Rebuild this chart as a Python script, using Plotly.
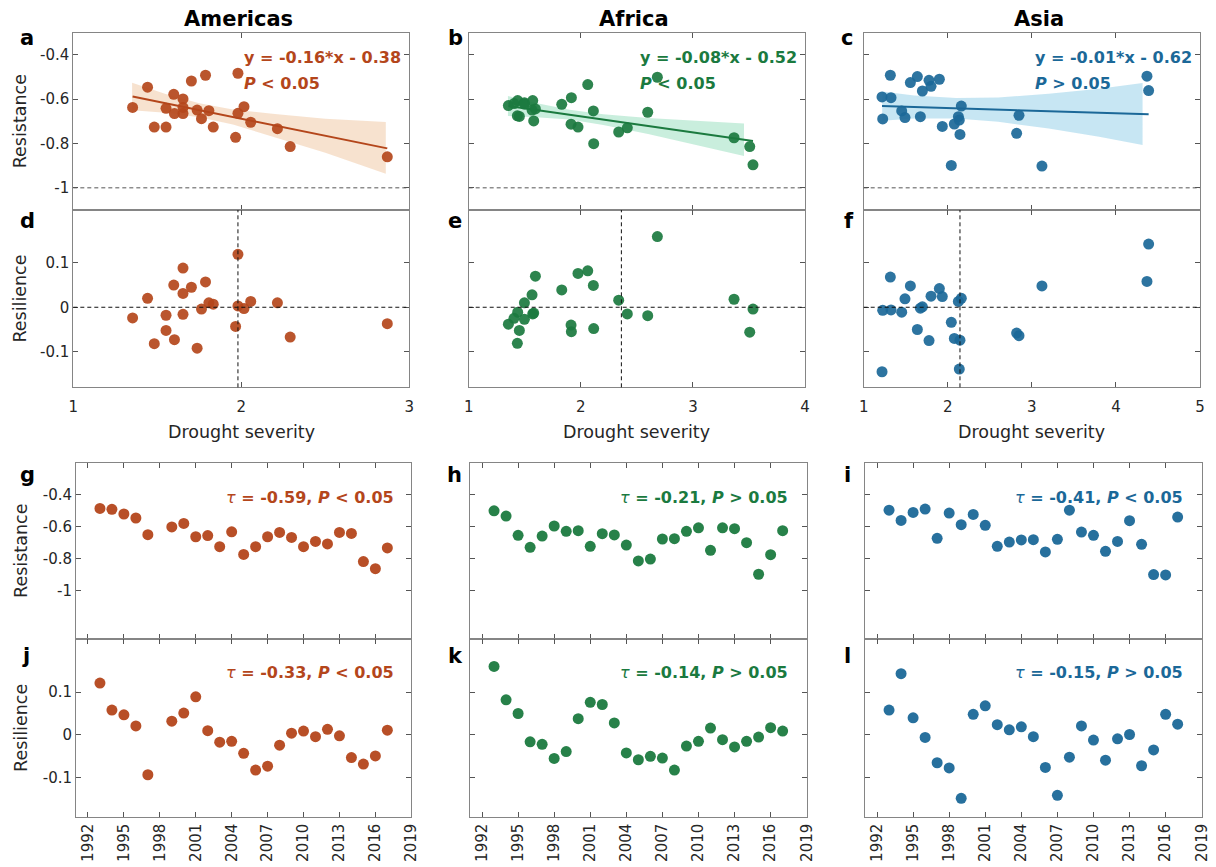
import plotly.graph_objects as go

W, H = 1216, 867
FONT = "DejaVu Sans"

regions = ["Americas", "Africa", "Asia"]
colors = ["#B4461B", "#1B7A3F", "#1B6898"]
band_colors = ["rgba(235,185,140,0.42)", "rgba(120,212,170,0.40)", "rgba(115,192,225,0.40)"]

# ---------------- scatter data (drought severity vs resistance / resilience) ----------------
am_sev = [1.353, 1.442, 1.482, 1.552, 1.552, 1.598, 1.602, 1.653, 1.653, 1.653, 1.703, 1.737,
          1.763, 1.787, 1.807, 1.833, 1.966, 1.980, 1.980, 2.016, 2.056, 2.215, 2.291, 2.869]
am_res = [-0.637, -0.546, -0.726, -0.726, -0.641, -0.578, -0.665, -0.599, -0.637, -0.665, -0.518, -0.649,
          -0.688, -0.492, -0.652, -0.726, -0.772, -0.483, -0.664, -0.634, -0.704, -0.733, -0.814, -0.860]
am_resil = [-0.024, 0.020, -0.082, -0.018, -0.052, 0.050, -0.073, 0.088, 0.031, -0.016, 0.045, -0.092,
            -0.004, 0.057, 0.010, 0.007, -0.043, 0.119, 0.003, -0.003, 0.013, 0.010, -0.067, -0.037]

af_sev = [1.354, 1.404, 1.434, 1.437, 1.452, 1.497, 1.497, 1.565, 1.571, 1.580, 1.595, 1.830, 1.913,
          1.916, 1.975, 2.062, 2.112, 2.115, 2.338, 2.415, 2.597, 2.683, 3.367, 3.507, 3.536]
af_res = [-0.629, -0.620, -0.675, -0.606, -0.678, -0.616, -0.622, -0.649, -0.606, -0.698, -0.644, -0.623, -0.713,
          -0.593, -0.726, -0.534, -0.653, -0.801, -0.748, -0.729, -0.659, -0.501, -0.774, -0.814, -0.896]
af_resil = [-0.038, -0.025, -0.081, -0.011, -0.052, -0.027, 0.010, 0.028, -0.015, -0.013, 0.070, 0.039, -0.040,
            -0.055, 0.076, 0.082, 0.049, -0.048, 0.016, -0.015, -0.019, 0.159, 0.018, -0.056, -0.004]

as_sev = [1.218, 1.226, 1.317, 1.325, 1.452, 1.491, 1.555, 1.638, 1.674, 1.698, 1.777, 1.801, 1.900,
          1.935, 2.042, 2.078, 2.126, 2.137, 2.145, 2.161, 2.819, 2.847, 3.120, 4.369, 4.389]
as_res = [-0.590, -0.689, -0.492, -0.593, -0.653, -0.683, -0.525, -0.498, -0.679, -0.563, -0.515, -0.542, -0.510,
          -0.723, -0.899, -0.712, -0.679, -0.694, -0.759, -0.631, -0.754, -0.673, -0.902, -0.496, -0.561]
as_resil = [-0.145, -0.007, 0.068, -0.006, -0.011, 0.019, 0.048, -0.050, -0.002, 0.001, -0.075, 0.025, 0.042,
            0.024, -0.034, -0.070, 0.013, -0.139, -0.074, 0.020, -0.058, -0.064, 0.048, 0.058, 0.142]

# regression lines and confidence bands
am_fit_x = [1.353, 2.869]
am_fit_y = [-0.588, -0.822]
am_band_x = [1.35, 1.55, 1.75, 1.95, 2.2, 2.5, 2.86]
am_band_hi = [-0.526, -0.577, -0.618, -0.646, -0.667, -0.688, -0.703]
am_band_lo = [-0.650, -0.661, -0.682, -0.714, -0.771, -0.842, -0.936]

af_fit_x = [1.354, 3.536]
af_fit_y = [-0.631, -0.789]
af_band_x = [1.35, 1.6, 1.9, 2.2, 2.6, 3.0, 3.456]
af_band_hi = [-0.586, -0.617, -0.648, -0.668, -0.685, -0.698, -0.710]
af_band_lo = [-0.676, -0.681, -0.692, -0.716, -0.757, -0.802, -0.856]

as_fit_x = [1.218, 4.389]
as_fit_y = [-0.631, -0.668]
as_band_x = [1.22, 1.6, 2.1, 2.6, 3.2, 3.8, 4.317]
as_band_hi = [-0.565, -0.583, -0.595, -0.592, -0.576, -0.553, -0.527]
as_band_lo = [-0.697, -0.687, -0.687, -0.702, -0.732, -0.769, -0.807]

equations = ["y = -0.16*x - 0.38", "y = -0.08*x - 0.52", "y = -0.01*x - 0.62"]
p_fit = ["&lt; 0.05", "&lt; 0.05", "&gt; 0.05"]
mean_severity = [1.98, 2.362, 2.145]
ref_resistance = -1.0
ref_resilience = 0.0

# ---------------- time series data ----------------
am_years = [1993, 1994, 1995, 1996, 1997, 1999, 2000, 2001, 2002, 2003, 2004, 2005,
            2006, 2007, 2008, 2009, 2010, 2011, 2012, 2013, 2014, 2015, 2016, 2017]
am_ts_res = [-0.485, -0.491, -0.520, -0.545, -0.649, -0.601, -0.579, -0.662, -0.655, -0.724, -0.631, -0.772,
             -0.724, -0.662, -0.635, -0.666, -0.724, -0.691, -0.707, -0.635, -0.641, -0.817, -0.861, -0.732]
am_ts_resil = [0.121, 0.058, 0.047, 0.021, -0.093, 0.032, 0.051, 0.089, 0.010, -0.017, -0.015, -0.043,
               -0.082, -0.073, -0.024, 0.004, 0.009, -0.004, 0.013, -0.002, -0.053, -0.068, -0.049, 0.011]

years = [1993, 1994, 1995, 1996, 1997, 1998, 1999, 2000, 2001, 2002, 2003, 2004, 2005,
         2006, 2007, 2008, 2009, 2010, 2011, 2012, 2013, 2014, 2015, 2016, 2017]
af_ts_res = [-0.500, -0.533, -0.653, -0.728, -0.658, -0.595, -0.628, -0.624, -0.722, -0.643, -0.651, -0.714, -0.813,
             -0.801, -0.676, -0.674, -0.628, -0.606, -0.747, -0.606, -0.612, -0.699, -0.896, -0.774, -0.624]
af_ts_resil = [0.160, 0.082, 0.050, -0.016, -0.022, -0.055, -0.039, 0.038, 0.076, 0.071, 0.028, -0.042, -0.058,
               -0.050, -0.054, -0.082, -0.026, -0.015, 0.016, -0.011, -0.028, -0.015, -0.005, 0.017, 0.009]
as_ts_res = [-0.496, -0.560, -0.510, -0.489, -0.672, -0.514, -0.587, -0.523, -0.591, -0.722, -0.695, -0.682, -0.680,
             -0.757, -0.678, -0.496, -0.633, -0.653, -0.753, -0.691, -0.562, -0.709, -0.898, -0.900, -0.539]
as_ts_resil = [0.058, 0.143, 0.040, -0.006, -0.065, -0.077, -0.148, 0.048, 0.068, 0.024, 0.012, 0.019, -0.004,
               -0.076, -0.141, -0.052, 0.021, -0.012, -0.059, -0.009, 0.001, -0.072, -0.035, 0.048, 0.025]

tau_res = ["-0.59", "-0.21", "-0.41"]
p_tau_res = ["&lt; 0.05", "&gt; 0.05", "&lt; 0.05"]
tau_resil = ["-0.33", "-0.14", "-0.15"]
p_tau_resil = ["&lt; 0.05", "&gt; 0.05", "&gt; 0.05"]

year_ticks = [1992, 1995, 1998, 2001, 2004, 2007, 2010, 2013, 2016, 2019]
sev_ranges = [[1, 3], [1, 4], [1, 5]]
sev_ticks = [[1, 2, 3], [1, 2, 3, 4], [1, 2, 3, 4, 5]]
res_ticks = [-1, -0.8, -0.6, -0.4]
res_ticktext = ["-1", "-0.8", "-0.6", "-0.4"]
resil_ticks = [-0.1, 0, 0.1]
resil_ticktext = ["-0.1", "0", "0.1"]

scatter_sets = [
    (am_sev, am_res, am_resil, am_fit_x, am_fit_y, am_band_x, am_band_hi, am_band_lo),
    (af_sev, af_res, af_resil, af_fit_x, af_fit_y, af_band_x, af_band_hi, af_band_lo),
    (as_sev, as_res, as_resil, as_fit_x, as_fit_y, as_band_x, as_band_hi, as_band_lo),
]
ts_sets = [
    (am_years, am_ts_res, am_ts_resil),
    (years, af_ts_res, af_ts_resil),
    (years, as_ts_res, as_ts_resil),
]

# ---------------- layout geometry (pixels) ----------------
cols_top = [(73.3, 409.3), (468.7, 805.0), (863.7, 1200.0)]
cols_bot = [(76.0, 411.3), (470.0, 806.7), (865.0, 1201.7)]
rows = {"res": (32.7, 210.0), "resil": (210.0, 387.3), "tsres": (462.7, 639.0), "tsresil": (639.0, 816.7)}


def xd(p):
    return [p[0] / W, p[1] / W]


def yd(p):
    return [1 - p[1] / H, 1 - p[0] / H]


def xn(n):
    return "x" if n == 1 else f"x{n}"


def yn(n):
    return "y" if n == 1 else f"y{n}"


fig = go.Figure()
layout = dict(width=W, height=H, margin=dict(l=0, r=0, t=0, b=0), autosize=False,
              plot_bgcolor="white", paper_bgcolor="white", showlegend=False,
              font=dict(family=FONT, color="#262626"))
shapes = []
annotations = []

axis_common = dict(showline=True, linecolor="#858585", linewidth=1, mirror="ticks", ticks="inside",
                   ticklen=5, tickcolor="#555555", showgrid=False, zeroline=False, automargin=False,
                   tickfont=dict(family=FONT, size=15, color="#262626"))

MS = 11


def add_axes(n, xdom, ydom, xrange, xticks, xlabels, yrange, yticks, yticktext, ylabels,
             xtickangle=0, xstandoff=0):
    xa = dict(axis_common, domain=xdom, range=xrange, anchor=yn(n), tickvals=xticks,
              showticklabels=xlabels, tickangle=xtickangle, ticklabelstandoff=xstandoff)
    ya = dict(axis_common, domain=ydom, range=yrange, anchor=xn(n), tickvals=yticks,
              ticktext=yticktext, showticklabels=ylabels)
    layout["xaxis" if n == 1 else f"xaxis{n}"] = xa
    layout["yaxis" if n == 1 else f"yaxis{n}"] = ya


for c in range(3):
    sev, res, resil, fx, fy, bx, bhi, blo = scatter_sets[c]
    yrs, tres, tresil = ts_sets[c]
    col = colors[c]
    na, nd, ng, nj = c + 1, c + 4, c + 7, c + 10

    add_axes(na, xd(cols_top[c]), yd(rows["res"]), sev_ranges[c], sev_ticks[c], False,
             [-1.1, -0.3], res_ticks, res_ticktext, c == 0)
    add_axes(nd, xd(cols_top[c]), yd(rows["resil"]), sev_ranges[c], sev_ticks[c], True,
             [-0.18, 0.2187], resil_ticks, resil_ticktext, c == 0, xstandoff=6)
    add_axes(ng, xd(cols_bot[c]), yd(rows["tsres"]), [1991, 2019], year_ticks, False,
             [-1.3, -0.2], res_ticks, res_ticktext, c == 0)
    add_axes(nj, xd(cols_bot[c]), yd(rows["tsresil"]), [1991, 2019], year_ticks, True,
             [-0.191, 0.224], resil_ticks, resil_ticktext, c == 0, xtickangle=-90)

    # confidence band
    fig.add_trace(go.Scatter(x=list(bx) + list(bx)[::-1], y=list(bhi) + list(blo)[::-1],
                             fill="toself", fillcolor=band_colors[c], line=dict(width=0),
                             mode="lines", hoverinfo="skip", xaxis=xn(na), yaxis=yn(na)))
    fig.add_trace(go.Scatter(x=fx, y=fy, mode="lines", line=dict(color=col, width=2),
                             xaxis=xn(na), yaxis=yn(na)))
    fig.add_trace(go.Scatter(x=sev, y=res, mode="markers", marker=dict(color=col, size=MS, opacity=0.92),
                             xaxis=xn(na), yaxis=yn(na)))
    fig.add_trace(go.Scatter(x=sev, y=resil, mode="markers", marker=dict(color=col, size=MS, opacity=0.92),
                             xaxis=xn(nd), yaxis=yn(nd)))
    fig.add_trace(go.Scatter(x=yrs, y=tres, mode="markers", marker=dict(color=col, size=MS, opacity=0.95),
                             xaxis=xn(ng), yaxis=yn(ng)))
    fig.add_trace(go.Scatter(x=yrs, y=tresil, mode="markers", marker=dict(color=col, size=MS, opacity=0.95),
                             xaxis=xn(nj), yaxis=yn(nj)))

    # reference lines
    shapes.append(dict(type="line", xref=f"{xn(na)} domain", x0=0, x1=1, yref=yn(na),
                       y0=ref_resistance, y1=ref_resistance,
                       line=dict(color="#555555", width=1, dash="4px,3px")))
    shapes.append(dict(type="line", xref=f"{xn(nd)} domain", x0=0, x1=1, yref=yn(nd),
                       y0=ref_resilience, y1=ref_resilience,
                       line=dict(color="#111111", width=1, dash="4px,3px")))
    shapes.append(dict(type="line", xref=xn(nd), x0=mean_severity[c], x1=mean_severity[c],
                       yref=f"{yn(nd)} domain", y0=0, y1=1,
                       line=dict(color="#111111", width=1, dash="4px,3px")))


# text annotations in pixel positions
def ann(text, px, py, size, xanchor="center", color="#000000", angle=0):
    annotations.append(dict(text=text, x=px / W, y=1 - py / H, xref="paper", yref="paper",
                            showarrow=False, xanchor=xanchor, yanchor="middle", textangle=angle,
                            font=dict(family=FONT, size=size, color=color)))


title_pos = [238.3, 634.0, 1039.0]
for c in range(3):
    ann(f"<b>{regions[c]}</b>", title_pos[c], 19, 21)

eq_x = [242, 638, 1033]
for c in range(3):
    ann(f"<b>{equations[c]}</b>", eq_x[c], 57, 16, xanchor="left", color=colors[c])
    ann(f"<b><i>P</i> {p_fit[c]}</b>", eq_x[c], 83.5, 16, xanchor="left", color=colors[c])

tau_x = [396, 790, 1185]
for c in range(3):
    ann(f"<i>τ</i><b> = {tau_res[c]}, <i>P</i> {p_tau_res[c]}</b>", tau_x[c], 497.5, 16,
        xanchor="right", color=colors[c])
    ann(f"<i>τ</i><b> = {tau_resil[c]}, <i>P</i> {p_tau_resil[c]}</b>", tau_x[c], 672.5, 16,
        xanchor="right", color=colors[c])

letters = [("a", 27, 38), ("b", 455, 38), ("c", 847, 38),
           ("d", 27, 221), ("e", 455, 221), ("f", 849, 221),
           ("g", 27, 475), ("h", 454, 475), ("i", 847, 475),
           ("j", 26, 656), ("k", 455, 656), ("l", 848, 656)]
for t, px, py in letters:
    ann(f"<b>{t}</b>", px, py, 21)

ann("Resistance", 20, 121.3, 17.5, color="#262626", angle=-90)
ann("Resilience", 20, 298.6, 17.5, color="#262626", angle=-90)
ann("Resistance", 21, 550.9, 17.5, color="#262626", angle=-90)
ann("Resilience", 21, 727.9, 17.5, color="#262626", angle=-90)
for c in range(3):
    ann("Drought severity", (cols_top[c][0] + cols_top[c][1]) / 2, 432, 17.5, color="#262626")

layout["shapes"] = shapes
layout["annotations"] = annotations
fig.update_layout(**layout)
fig.write_html("out.html", config={"displayModeBar": False},
               post_script="document.body.style.margin='0';document.body.style.padding='0';"
                           "document.body.style.overflow='hidden';")
